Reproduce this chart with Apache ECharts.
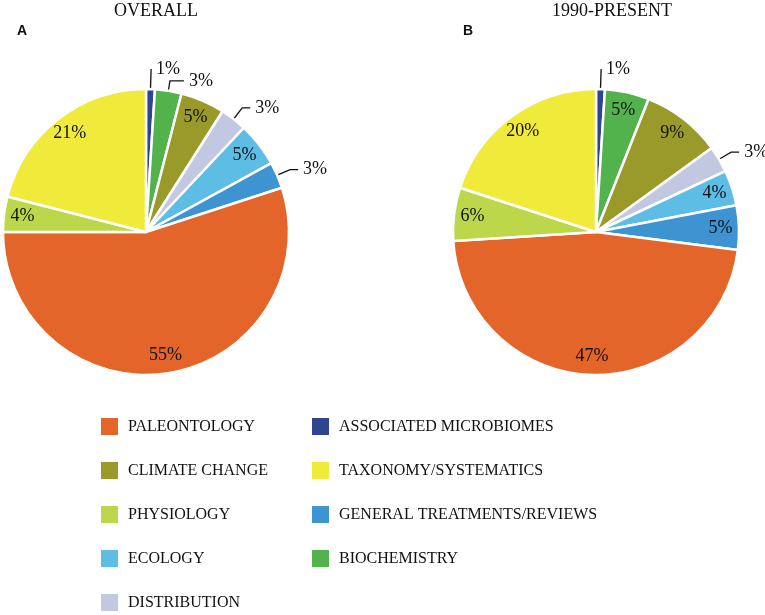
<!DOCTYPE html>
<html>
<head>
<meta charset="utf-8">
<script src="https://cdn.jsdelivr.net/npm/echarts@6/dist/echarts.min.js"></script>
<style>
  html, body { margin: 0; padding: 0; background: #fff; }
  #chart { width: 765px; height: 615px; }
</style>
</head>
<body>
<div id="chart"></div>
<script>
// slice order, clockwise from 12 o'clock
const categories = ['ASSOCIATED MICROBIOMES', 'BIOCHEMISTRY', 'CLIMATE CHANGE', 'DISTRIBUTION', 'ECOLOGY',
    'GENERAL TREATMENTS/REVIEWS', 'PALEONTOLOGY', 'PHYSIOLOGY', 'TAXONOMY/SYSTEMATICS'];
const overallValues = [1, 3, 5, 3, 5, 3, 55, 4, 21];
const presentValues = [1, 5, 9, 3, 4, 5, 47, 6, 20];
const colors = ['#2f4590', '#52b34c', '#9a9a2a', '#c3c8e2', '#5dbde5', '#3d94d0', '#e4652a', '#bcd84a', '#f0ea3a'];

// slices whose label sits outside with a leader line
const outsideOverall = ['ASSOCIATED MICROBIOMES', 'BIOCHEMISTRY', 'DISTRIBUTION', 'GENERAL TREATMENTS/REVIEWS'];
const outsidePresent = ['ASSOCIATED MICROBIOMES', 'DISTRIBUTION'];

const legendCol1 = ['PALEONTOLOGY', 'CLIMATE CHANGE', 'PHYSIOLOGY', 'ECOLOGY', 'DISTRIBUTION'];
const legendCol2 = ['ASSOCIATED MICROBIOMES', 'TAXONOMY/SYSTEMATICS', 'GENERAL TREATMENTS/REVIEWS', 'BIOCHEMISTRY'];

const serif = 'Liberation Serif';

const pieData = (values) => categories.map((name, i) => ({
    name: name,
    value: values[i],
    itemStyle: { color: colors[i] }
}));

// leader line lengths: the thin microbiome slice gets a tall straight line,
// the biochemistry one a short elbow so the two labels don't collide
const lineFor = (name) => {
    if (name === 'ASSOCIATED MICROBIOMES') return { length: 20, length2: 0 };
    if (name === 'BIOCHEMISTRY') return { length: 10, length2: 14 };
    return { length: 14, length2: 8 };
};

const labelData = (values, outside) => categories.map((name, i) => {
    const out = outside.indexOf(name) >= 0;
    const ln = lineFor(name);
    return {
        name: name,
        value: values[i],
        label: { position: out ? 'outside' : 'inside' },
        labelLine: { show: out, length: ln.length, length2: ln.length2 }
    };
});

const mainPie = (center, values) => ({
    type: 'pie',
    center: center,
    radius: [0, 143],
    startAngle: 90,
    clockwise: true,
    label: { show: false },
    labelLine: { show: false },
    itemStyle: { borderColor: '#fff', borderWidth: 2.5 },
    emphasis: { scale: false },
    data: pieData(values)
});

// transparent ring used only to place the percent labels near the rim
const labelPie = (center, values, outside) => ({
    type: 'pie',
    center: center,
    radius: [100, 143],
    startAngle: 90,
    clockwise: true,
    silent: true,
    avoidLabelOverlap: false,
    itemStyle: { color: 'transparent', borderWidth: 0 },
    label: {
        show: true,
        formatter: '{c}%',
        color: '#111',
        fontFamily: serif,
        fontSize: 18
    },
    labelLine: {
        lineStyle: { color: '#111', width: 1.3 }
    },
    labelLayout: { hideOverlap: false },
    data: labelData(values, outside)
});

const legendStyle = (left, names) => ({
    data: names,
    orient: 'vertical',
    left: left,
    top: 416,
    height: 199,
    padding: 0,
    itemWidth: 19,
    itemHeight: 19,
    itemGap: 23,
    icon: 'rect',
    textStyle: {
        color: '#111',
        fontFamily: serif,
        fontSize: 16,
        lineHeight: 19,
        padding: [0, 0, 0, 4]
    }
});

const option = {
    backgroundColor: '#fff',
    animation: false,
    title: [
        { text: 'OVERALL', left: 156, top: 2, padding: 0, textAlign: 'center',
          textStyle: { fontFamily: serif, fontWeight: 'normal', fontSize: 18, color: '#111' } },
        { text: '1990-PRESENT', left: 612, top: 2, padding: 0, textAlign: 'center',
          textStyle: { fontFamily: serif, fontWeight: 'normal', fontSize: 18, color: '#111' } },
        { text: 'A', left: 17, top: 24, padding: 0,
          textStyle: { fontFamily: 'Liberation Sans', fontWeight: 'bold', fontSize: 14, color: '#111' } },
        { text: 'B', left: 463, top: 24, padding: 0,
          textStyle: { fontFamily: 'Liberation Sans', fontWeight: 'bold', fontSize: 14, color: '#111' } }
    ],
    legend: [legendStyle(99, legendCol1), legendStyle(310, legendCol2)],
    series: [
        mainPie([146, 232], overallValues),
        mainPie([596, 232], presentValues),
        labelPie([146, 232], overallValues, outsideOverall),
        labelPie([596, 232], presentValues, outsidePresent)
    ]
};

const chart = echarts.init(document.getElementById('chart'));
chart.setOption(option);
</script>
</body>
</html>
